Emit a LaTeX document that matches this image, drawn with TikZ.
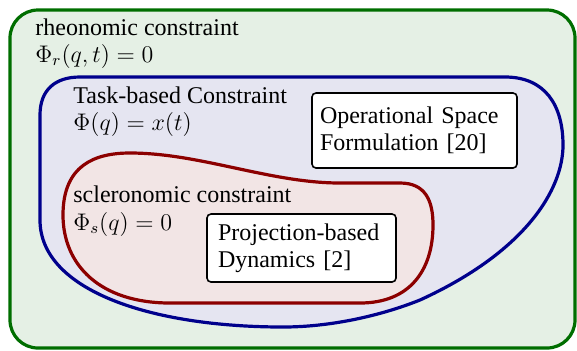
\documentclass[tikz,border=0pt]{standalone}
\usepackage[no-math]{fontspec}
\setmainfont{Liberation Serif}
\definecolor{gborder}{RGB}{0,110,0}
\definecolor{gfill}{RGB}{229,240,229}
\definecolor{bborder}{RGB}{0,0,140}
\definecolor{bfill}{RGB}{229,229,241}
\definecolor{rborder}{RGB}{140,0,0}
\definecolor{rfill}{RGB}{242,229,229}
\tikzset{
  lbl/.style={anchor=base west, inner sep=0pt, font=\fontsize{12}{13.5}\selectfont},
  refbox/.style={draw=black, fill=white, line width=0.8pt, rounded corners=2pt, align=left,
    font=\fontsize{12}{13.5}\selectfont},
  region/.style={line width=1.6pt}
}
\begin{document}
\begin{tikzpicture}[x=0.5pt,y=-0.5pt]
\useasboundingbox (0,0) rectangle (577,350);
% outer green
\draw[region, draw=gborder, fill=gfill, rounded corners=14pt] (10,10) rectangle (575,348);
% blue
\draw[region, draw=bborder, fill=bfill]
  (80,77) -- (505,77) .. controls (545,77) and (563,105) .. (563,145)
  .. controls (563,190) and (525,252) .. (420,300)
  .. controls (380,316) and (330,327) .. (283,327)
  .. controls (150,327) and (40,290) .. (40,220)
  -- (40,115) .. controls (40,90) and (55,77) .. (80,77) -- cycle;
% red
\draw[region, draw=rborder, fill=rfill]
  (63,215) .. controls (63,165) and (95,153) .. (130,153)
  .. controls (200,153) and (270,183) .. (340,183)
  -- (400,183) .. controls (425,183) and (433,200) .. (433,225)
  .. controls (433,270) and (410,303) .. (360,303)
  -- (170,303) .. controls (100,303) and (63,265) .. (63,215) -- cycle;
% labels
\node[lbl] (rheo) at (35,35) {rheonomic constraint};
\node[lbl] (rheoeq) at (35,62) {$\Phi_r(q,t)=0$};
\node[lbl] (task) at (73,103) {Task-based Constraint};
\node[lbl] (taskeq) at (73,130) {$\Phi(q)=x(t)$};
\node[lbl] (sclero) at (73,202) {scleronomic constraint};
\node[lbl] (scleroeq) at (73,230) {$\Phi_s(q)=0$};
% boxes
\node[refbox, text width=94.5pt, inner xsep=4pt, minimum height=37.5pt] (osf) at (414.5,130.5)
  {Operational Space\\Formulation [20]};
\node[refbox, text width=83.5pt, inner xsep=5.5pt, minimum height=34pt] (pbd) at (301.5,248)
  {Projection-based\\Dynamics [2]};
\end{tikzpicture}
\end{document}
